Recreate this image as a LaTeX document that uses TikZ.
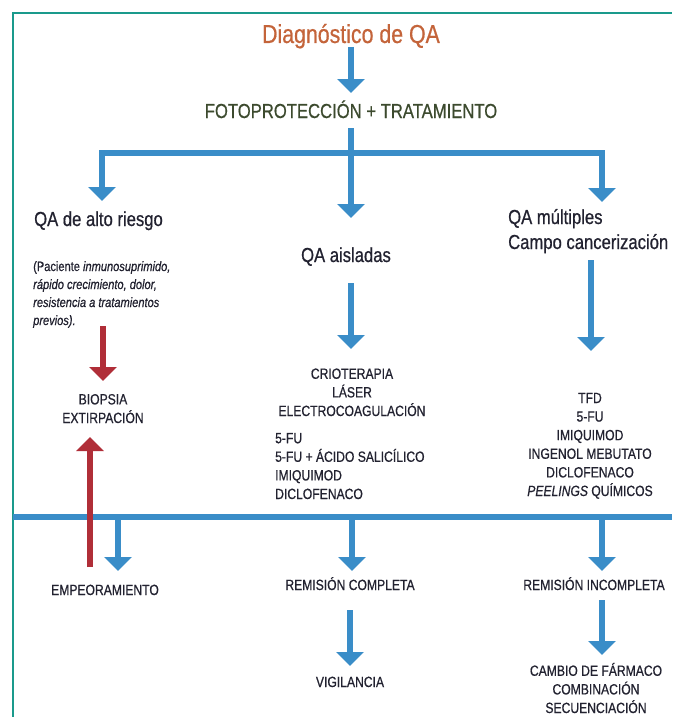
\documentclass[tikz,border=0pt]{standalone}
\usepackage{fontspec}
\setmainfont[FakeStretch=0.82,FakeBold=0.6]{Liberation Sans}
\usetikzlibrary{arrows.meta}
\definecolor{blu}{HTML}{3A8DC8}
\definecolor{rojo}{HTML}{B02E38}
\definecolor{marco}{HTML}{1A9A8C}
\definecolor{titulo}{HTML}{C4643A}
\definecolor{verde}{HTML}{3C4A2E}
\definecolor{texto}{HTML}{222230}
\begin{document}
\begin{tikzpicture}[x=1pt,y=-1pt,
  barra/.style={blu,line width=6pt},
  flecha/.style={blu,line width=6pt,-{Triangle[width=27pt,length=14pt]}},
  flecharoja/.style={rojo,line width=6pt,-{Triangle[width=27pt,length=14pt]}},
  mayus/.style={font=\fontsize{14.8}{18.6}\selectfont,text=texto,inner sep=0pt,align=center},
  lbl/.style={font=\fontsize{20.3}{25}\selectfont,text=texto,inner sep=0pt,align=left},
  nota/.style={font=\fontsize{13.5}{18}\selectfont,text=texto,inner sep=0pt,align=left},
]
\useasboundingbox (0,0) rectangle (672,717);
\fill[white] (0,0) rectangle (672,717);
\draw[marco,line width=2pt] (13,717) -- (13,13) -- (672,13);

% texts (multi-line nodes: base = baseline of the last line)
\node[anchor=base,inner sep=0pt,text=titulo,font=\fontsize{26}{30}\selectfont] (diag) at (351,43) {Diagnóstico de QA};
\node[anchor=base,inner sep=0pt,text=verde,font=\fontsize{20.3}{24}\selectfont] (foto) at (351,118) {FOTOPROTECCIÓN + TRATAMIENTO};
\node[lbl,anchor=base west] (alto) at (34,226) {QA de alto riesgo};
\node[lbl,anchor=base] (aisl) at (346,262) {QA aisladas};
\node[lbl,anchor=base west] (mult) at (508,224) {QA múltiples};
\node[lbl,anchor=base west] (campo) at (508,249) {Campo cancerización};
\node[nota,anchor=base west] (nota) at (33,325) {(Paciente \textit{inmunosuprimido,}\\\textit{rápido crecimiento, dolor,}\\\textit{resistencia a tratamientos}\\\textit{previos).}};
\node[mayus,anchor=base] (biop) at (103,423) {BIOPSIA\\EXTIRPACIÓN};
\node[mayus,anchor=base] (crio) at (352,416) {CRIOTERAPIA\\LÁSER\\ELECTROCOAGULACIÓN};
\node[mayus,anchor=base west,align=left] (fu) at (275,499) {5-FU\\5-FU + ÁCIDO SALICÍLICO\\IMIQUIMOD\\DICLOFENACO};
\node[mayus,anchor=base] (tfd) at (590,496) {TFD\\5-FU\\IMIQUIMOD\\INGENOL MEBUTATO\\DICLOFENACO\\\textit{PEELINGS} QUÍMICOS};
\node[mayus,anchor=base] (emp) at (105,595) {EMPEORAMIENTO};
\node[mayus,anchor=base] (remc) at (350,590) {REMISIÓN COMPLETA};
\node[mayus,anchor=base] (remi) at (594,590) {REMISIÓN INCOMPLETA};
\node[mayus,anchor=base] (vig) at (350,687) {VIGILANCIA};
\node[mayus,anchor=base] (camb) at (596,713) {CAMBIO DE FÁRMACO\\COMBINACIÓN\\SECUENCIACIÓN};

% coordinates
\coordinate (d0) at (351,47);
\coordinate (d1) at (351,93);
\coordinate (f0) at (351,128);
\coordinate (hl) at (99,153);
\coordinate (hr) at (605,153);
\coordinate (hm) at (351,153);
\coordinate (tA) at (102,201);
\coordinate (tB) at (351,218);
\coordinate (tC) at (602,202);
\coordinate (bl) at (13,517);
\coordinate (br) at (672,517);

% top arrows
\draw[flecha] (d0) -- (d1);
\draw[barra] (f0) -- (hm);
\draw[barra] (hl) -- (hr);
\draw[flecha] (102,150) -- (tA);
\draw[flecha] (351,150) -- (tB);
\draw[flecha] (602,150) -- (tC);

% middle arrows
\draw[flecha] (351,283) -- (351,349);
\draw[flecha] (591,260) -- (591,351);
\draw[flecharoja] (103,326) -- (103,381);

% bottom bar
\draw[barra] (bl) -- (br);
\draw[flecha] (118,514) -- (118,571);
\draw[flecha] (352,514) -- (352,571);
\draw[flecha] (602,514) -- (602,571);
\draw[flecha] (350,610) -- (350,666);
\draw[flecha] (602,600) -- (602,655);
\draw[flecharoja] (90,567) -- (90,437);
\end{tikzpicture}
\end{document}
